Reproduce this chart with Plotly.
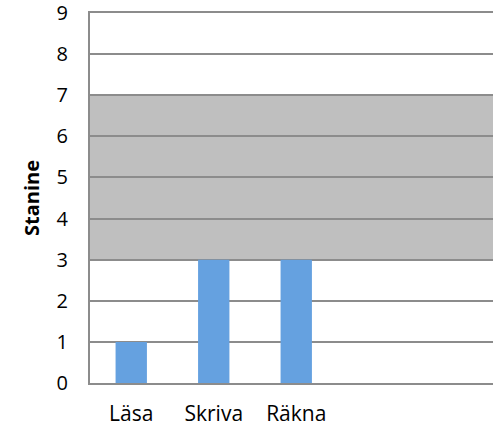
import plotly.graph_objects as go

categories = ["Läsa", "Skriva", "Räkna"]
values = [1, 3, 3]
band_low = 3
band_high = 7
y_ticks = [0, 1, 2, 3, 4, 5, 6, 7, 8, 9]

x_pos = list(range(len(categories)))

fig = go.Figure()
fig.add_trace(go.Bar(
    x=x_pos, y=values, width=0.38,
    marker=dict(color="#65A1E0", line=dict(width=0)),
    showlegend=False,
))

fig.add_shape(type="rect", xref="paper", yref="y", x0=0, x1=1,
              y0=band_low, y1=band_high, fillcolor="#BFBFBF",
              line=dict(width=0), layer="below")

font_family = "Open Sans, Liberation Sans, sans-serif"
fig.update_layout(
    width=493, height=433,
    margin=dict(l=90, r=0, t=13, b=50),
    plot_bgcolor="white", paper_bgcolor="white",
    font=dict(family=font_family, size=20, color="#000000"),
    xaxis=dict(
        range=[-0.5, 4.385],
        tickvals=x_pos, ticktext=categories,
        showgrid=False, zeroline=False,
        showline=True, linecolor="#8C8C8C", linewidth=2, mirror=True,
        ticks="", ticklabelstandoff=11,
        tickfont=dict(size=21),
        ticklabeloverflow="allow",
    ),
    yaxis=dict(
        range=[0, 9], tickvals=y_ticks,
        showgrid=True, gridcolor="#8C8C8C", gridwidth=2,
        zeroline=False,
        showline=True, linecolor="#8C8C8C", linewidth=2,
        ticks="", ticklabelstandoff=16,
        tickfont=dict(size=20),
        ticklabeloverflow="allow",
        title=dict(text="<b>Stanine</b>", font=dict(size=20), standoff=12),
    ),
)

fig.write_html("out.html", config={"displayModeBar": False},
               post_script="document.body.style.margin='0';")
